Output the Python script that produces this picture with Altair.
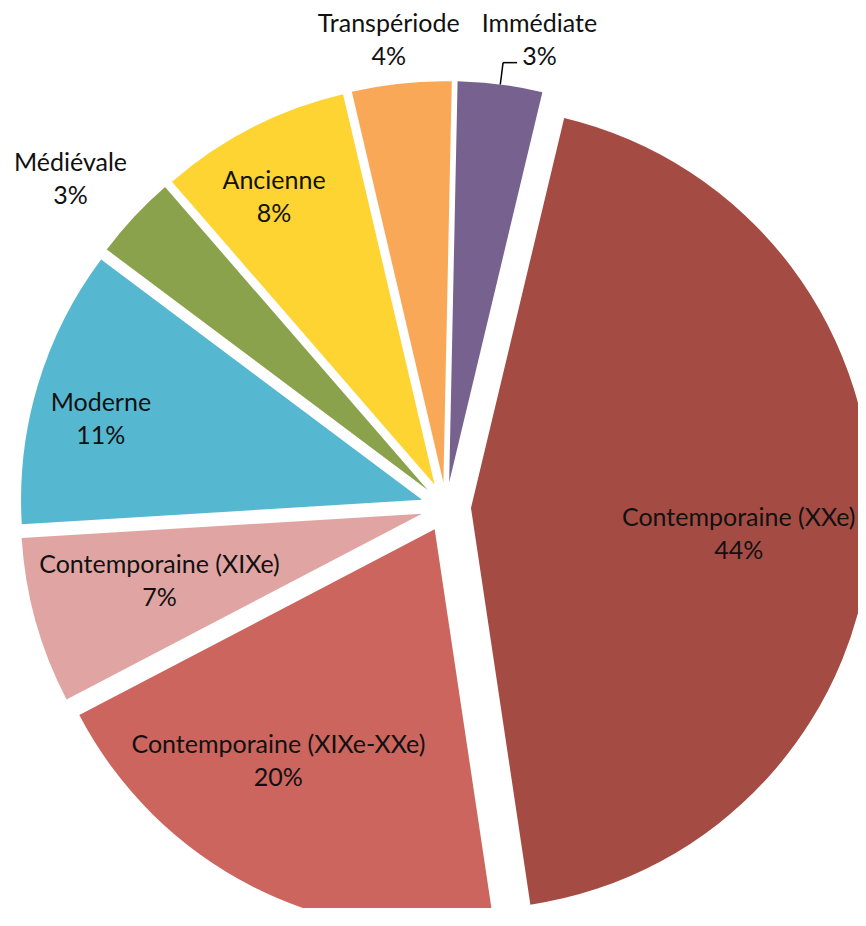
import math
import altair as alt
import pandas as pd

# ---- data ----
CATEGORIES = ["Immédiate", "Contemporaine (XXe)", "Contemporaine (XIXe-XXe)",
              "Contemporaine (XIXe)", "Moderne", "Médiévale", "Ancienne", "Transpériode"]
SHARES = [3.4, 43.9, 19.7, 6.7, 11.2, 3.4, 7.7, 4.0]

# ---- style / layout ----
COLORS = ["#77618F", "#A44C44", "#CC655E", "#E0A5A3", "#56B8D0", "#8BA24D", "#FDD432", "#F8A857"]
CX, CY = 438, 499          # pie centre (px)
RADIUS = 401
EXPLODE = 25
START = math.radians(1.2)
LABEL_SHIFT_DEG = [4.0, 2.9, 6.4, 1.0, -2.5, -1.9, -2.0, -1.0]
LABEL_RADIUS = [476, 294, 305, 296, 356, 498, 354, 470]
LINE_HEIGHT = 33
LEADER = [True, False, False, False, False, False, False, False]
LEADER_OUT = 448
LEADER_TAIL = 14

df = pd.DataFrame({
    "name": CATEGORIES,
    "share": SHARES,
    "order": list(range(len(CATEGORIES))),
    "label": [f"{n}\n{round(s)}%" for n, s in zip(CATEGORIES, SHARES)],
    "lshift": [math.radians(v) for v in LABEL_SHIFT_DEG],
    "lr": LABEL_RADIUS,
    "leader": LEADER,
})

TWO_PI = 2 * math.pi
base = (
    alt.Chart(df)
    .transform_window(cum="sum(share)", sort=[alt.SortField("order")], frame=[None, 0])
    .transform_calculate(start="datum.cum - datum.share")
    .transform_calculate(mid=f"{START} + (datum.start + datum.share / 2) / 100 * {TWO_PI}")
    .transform_calculate(
        px=f"{CX} + {EXPLODE} * sin(datum.mid)",
        py=f"{CY} - {EXPLODE} * cos(datum.mid)",
        tx=f"{CX} + datum.lr * sin(datum.mid + datum.lshift)",
        ty=f"{CY} - datum.lr * cos(datum.mid + datum.lshift) - {LINE_HEIGHT / 2}",
        l0x=f"{CX} + {EXPLODE + RADIUS} * sin(datum.mid)",
        l0y=f"{CY} - {EXPLODE + RADIUS} * cos(datum.mid)",
        l1x=f"{CX} + {LEADER_OUT} * sin(datum.mid)",
        l1y=f"{CY} - {LEADER_OUT} * cos(datum.mid)",
    )
    .transform_calculate(l2x=f"datum.l1x + {LEADER_TAIL}")
)

arcs = base.mark_arc(radius=RADIUS).encode(
    theta=alt.Theta("start:Q", scale=alt.Scale(domain=[0, 100], range=[START, START + TWO_PI])),
    theta2="cum:Q",
    x=alt.X("px:Q", scale=None, axis=None),
    y=alt.Y("py:Q", scale=None, axis=None),
    color=alt.Color("name:N", scale=alt.Scale(domain=CATEGORIES, range=COLORS), legend=None),
)

leader1 = base.transform_filter("datum.leader").mark_rule(color="#000000", strokeWidth=1.5).encode(
    x=alt.X("l0x:Q", scale=None), y=alt.Y("l0y:Q", scale=None),
    x2="l1x:Q", y2="l1y:Q",
)
leader2 = base.transform_filter("datum.leader").mark_rule(color="#000000", strokeWidth=1.5).encode(
    x=alt.X("l1x:Q", scale=None), y=alt.Y("l1y:Q", scale=None),
    x2="l2x:Q", y2="l1y:Q",
)

labels = base.mark_text(
    lineBreak="\n", lineHeight=LINE_HEIGHT, font="Lato", fontSize=25,
    align="center", baseline="middle", color="#111111",
).encode(
    x=alt.X("tx:Q", scale=None), y=alt.Y("ty:Q", scale=None), text="label:N",
)

chart = (
    alt.layer(arcs, leader1, leader2, labels)
    .properties(width=850, height=900, padding=0, autosize=alt.AutoSizeParams(type="none"))
    .configure_view(stroke=None)
)

chart.save("out.html", embed_options={"renderer": "svg", "actions": False})
